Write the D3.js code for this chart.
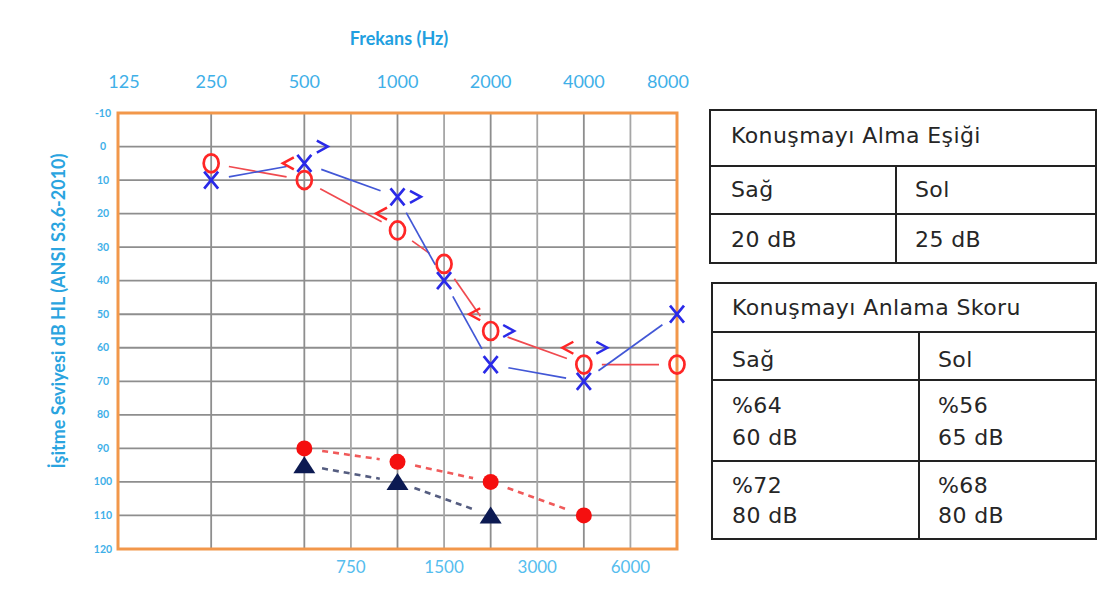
<!DOCTYPE html>
<html lang="tr">
<head>
<meta charset="utf-8">
<title>Odyogram</title>
<script src="https://cdn.jsdelivr.net/npm/d3@7"></script>
<style>
body { margin: 0; background: #fff; }
.blue-label { font-family: Lato, "Open Sans", sans-serif; fill: #3fb0e8; }
.cell-text { font-family: "DejaVu Sans", sans-serif; font-size: 22px; letter-spacing: 0.4px; fill: #262626; }
.grid line { stroke: #8e8e8e; stroke-width: 1.8px; }
.grid line.mid { stroke: #a6a6a6; }
.cell { fill: none; stroke: #222; stroke-width: 2px; }
</style>
</head>
<body>
<script>
// audiogram data
var octaveFreqs = [125, 250, 500, 1000, 2000, 4000, 8000];
var midFreqs = [750, 1500, 3000, 6000];
var dbTicks = [-10, 0, 10, 20, 30, 40, 50, 60, 70, 80, 90, 100, 110, 120];

var acFreqs = [250, 500, 1000, 1500, 2000, 4000, 8000];
var rightAC = [5, 10, 25, 35, 55, 65, 65];     // red O
var leftAC = [10, 5, 15, 40, 65, 70, 50];      // blue X

var bcFreqs = [500, 1000, 2000, 4000];
var rightBC = [5, 20, 50, 60];                 // red <
var leftBC = [0, 15, 55, 60];                  // blue >

var dotFreqs = [500, 1000, 2000, 4000];
var redDots = [90, 94, 100, 110];
var triFreqs = [500, 1000, 2000];
var navyTris = [95, 100, 110];

// table texts
var srtTitle = "Konuşmayı Alma Eşiği";
var earHeads = ["Sağ", "Sol"];
var srtValues = ["20 dB", "25 dB"];
var sdsTitle = "Konuşmayı Anlama Skoru";
var sdsRows = [
    [["%64", "60 dB"], ["%56", "65 dB"]],
    [["%72", "80 dB"], ["%68", "80 dB"]]
];

{
    var w = 1120, h = 601;
    var plot = {left: 118, right: 677, top: 113, bottom: 549};

    var svg = d3.select("body").append("svg")
        .attr("width", w)
        .attr("height", h);

    var x = d3.scaleLog().domain([125, 8000]).range([plot.left, plot.right]);
    var y = d3.scaleLinear().domain([-10, 120]).range([plot.top, plot.bottom]);

    // half-octave lines sit in the middle of their octave
    function fx(f) {
        return x(midFreqs.indexOf(f) >= 0 ? f / 1.5 * Math.SQRT2 : f);
    }

    // grid
    var grid = svg.append("g").attr("class", "grid");
    grid.selectAll("line.h").data(dbTicks).enter().append("line")
        .attr("class", "h")
        .attr("x1", plot.left).attr("x2", plot.right)
        .attr("y1", function(d) { return y(d); })
        .attr("y2", function(d) { return y(d); });
    grid.selectAll("line.oct").data(octaveFreqs).enter().append("line")
        .attr("class", "oct")
        .attr("x1", function(d) { return fx(d); })
        .attr("x2", function(d) { return fx(d); })
        .attr("y1", plot.top).attr("y2", plot.bottom);
    grid.selectAll("line.mid").data(midFreqs).enter().append("line")
        .attr("class", "mid")
        .attr("x1", function(d) { return fx(d); })
        .attr("x2", function(d) { return fx(d); })
        .attr("y1", plot.top).attr("y2", plot.bottom);

    svg.append("rect")
        .attr("x", plot.left).attr("y", plot.top)
        .attr("width", plot.right - plot.left)
        .attr("height", plot.bottom - plot.top)
        .attr("fill", "none")
        .attr("stroke", "#f2974a")
        .attr("stroke-width", 3);

    // axis texts
    svg.append("text")
        .attr("class", "blue-label")
        .attr("x", 399).attr("y", 45)
        .attr("text-anchor", "middle")
        .style("font-size", "18px").style("font-weight", "bold")
        .style("fill", "#1f9fe0")
        .text("Frekans (Hz)");

    svg.selectAll("text.top").data(octaveFreqs).enter().append("text")
        .attr("class", "blue-label top")
        .attr("x", function(d) { return Math.min(Math.max(fx(d), plot.left + 6), plot.right - 9); })
        .attr("y", 88)
        .attr("text-anchor", "middle")
        .style("font-size", "18px")
        .text(function(d) { return d; });

    svg.selectAll("text.bottom").data(midFreqs).enter().append("text")
        .attr("class", "blue-label bottom")
        .attr("x", function(d) { return fx(d); })
        .attr("y", 573)
        .attr("text-anchor", "middle")
        .style("font-size", "17px")
        .style("fill", "#55bdee")
        .text(function(d) { return d; });

    svg.selectAll("text.ytick").data(dbTicks).enter().append("text")
        .attr("class", "blue-label ytick")
        .attr("x", 103)
        .attr("y", function(d) { return y(d) + 3.5; })
        .attr("text-anchor", "middle")
        .style("font-size", "10.5px").style("font-weight", "bold")
        .text(function(d) { return d; });

    svg.append("text")
        .attr("class", "blue-label")
        .attr("transform", "translate(65,311) rotate(-90)")
        .attr("text-anchor", "middle")
        .style("font-size", "18px").style("font-weight", "bold")
        .style("fill", "#2aa4df")
        .text("İşitme Seviyesi dB HL (ANSI S3.6-2010)");

    // connecting lines leave a gap round each symbol
    function gapSegments(freqs, vals, gap) {
        var pts = freqs.map(function(f, i) { return [fx(f), y(vals[i])]; });
        return d3.pairs(pts).map(function(p) {
            var dx = p[1][0] - p[0][0], dy = p[1][1] - p[0][1];
            var len = Math.sqrt(dx * dx + dy * dy);
            var ux = dx / len, uy = dy / len;
            return [p[0][0] + ux * gap, p[0][1] + uy * gap,
                    p[1][0] - ux * gap, p[1][1] - uy * gap];
        });
    }

    function drawSegments(segs, color, width, dash) {
        svg.append("g").selectAll("line").data(segs).enter().append("line")
            .attr("x1", function(d) { return d[0]; })
            .attr("y1", function(d) { return d[1]; })
            .attr("x2", function(d) { return d[2]; })
            .attr("y2", function(d) { return d[3]; })
            .attr("stroke", color)
            .attr("stroke-width", width)
            .attr("stroke-dasharray", dash || null);
    }

    drawSegments(gapSegments(acFreqs, rightAC, 18), "#f04a4f", 1.7);
    drawSegments(gapSegments(acFreqs, leftAC, 18), "#4257d6", 1.7);
    drawSegments(gapSegments(dotFreqs, redDots, 18), "#f05a5a", 2.6, "6,5");
    drawSegments(gapSegments(triFreqs, navyTris, 18), "#555d80", 2.6, "6,5");

    // right ear air: O
    svg.append("g").selectAll("ellipse").data(acFreqs).enter().append("ellipse")
        .attr("cx", function(d) { return fx(d); })
        .attr("cy", function(d, i) { return y(rightAC[i]); })
        .attr("rx", 7.5).attr("ry", 9)
        .attr("fill", "none")
        .attr("stroke", "#ff2626")
        .attr("stroke-width", 2.7);

    // left ear air: X
    svg.append("g").selectAll("path").data(acFreqs).enter().append("path")
        .attr("transform", function(d, i) { return "translate(" + fx(d) + "," + y(leftAC[i]) + ")"; })
        .attr("d", "M-7,-8.5L7,8.5M7,-8.5L-7,8.5")
        .attr("fill", "none")
        .attr("stroke", "#2a2ae8")
        .attr("stroke-width", 2.7);

    // bone conduction
    svg.append("g").selectAll("path").data(bcFreqs).enter().append("path")
        .attr("transform", function(d, i) { return "translate(" + (fx(d) - 16) + "," + y(rightBC[i]) + ")"; })
        .attr("d", "M5.5,-6L-5.5,0L5.5,6")
        .attr("fill", "none")
        .attr("stroke", "#ff2626")
        .attr("stroke-width", 2.5);
    svg.append("g").selectAll("path").data(bcFreqs).enter().append("path")
        .attr("transform", function(d, i) { return "translate(" + (fx(d) + 18) + "," + y(leftBC[i]) + ")"; })
        .attr("d", "M-5.5,-6L5.5,0L-5.5,6")
        .attr("fill", "none")
        .attr("stroke", "#2a2ae8")
        .attr("stroke-width", 2.5);

    // filled markers at the bottom
    svg.append("g").selectAll("circle").data(dotFreqs).enter().append("circle")
        .attr("cx", function(d) { return fx(d); })
        .attr("cy", function(d, i) { return y(redDots[i]); })
        .attr("r", 8)
        .attr("fill", "#f50f0f");
    svg.append("g").selectAll("path").data(triFreqs).enter().append("path")
        .attr("transform", function(d, i) { return "translate(" + fx(d) + "," + y(navyTris[i]) + ")"; })
        .attr("d", "M0,-9L11,8L-11,8Z")
        .attr("fill", "#0c1a52");

    // tables on the right
    function cellText(g, str, tx, ty) {
        g.append("text").attr("class", "cell-text").attr("x", tx).attr("y", ty).text(str);
    }

    var t1 = svg.append("g");
    var t1x = [710, 896, 1096], t1y = [110, 166, 214, 263];
    t1.append("rect").attr("class", "cell")
        .attr("x", t1x[0]).attr("y", t1y[0])
        .attr("width", t1x[2] - t1x[0]).attr("height", t1y[3] - t1y[0]);
    t1.selectAll("line.r").data([t1y[1], t1y[2]]).enter().append("line")
        .attr("class", "cell")
        .attr("x1", t1x[0]).attr("x2", t1x[2])
        .attr("y1", function(d) { return d; }).attr("y2", function(d) { return d; });
    t1.append("line").attr("class", "cell")
        .attr("x1", t1x[1]).attr("x2", t1x[1]).attr("y1", t1y[1]).attr("y2", t1y[3]);
    cellText(t1, srtTitle, 731, 143);
    earHeads.forEach(function(s, i) { cellText(t1, s, i ? 915 : 731, 197); });
    srtValues.forEach(function(s, i) { cellText(t1, s, i ? 915 : 731, 247); });

    var t2 = svg.append("g");
    var t2x = [712, 919, 1096], t2y = [283, 332, 380, 461, 539];
    t2.append("rect").attr("class", "cell")
        .attr("x", t2x[0]).attr("y", t2y[0])
        .attr("width", t2x[2] - t2x[0]).attr("height", t2y[4] - t2y[0]);
    t2.selectAll("line.r").data([t2y[1], t2y[2], t2y[3]]).enter().append("line")
        .attr("class", "cell")
        .attr("x1", t2x[0]).attr("x2", t2x[2])
        .attr("y1", function(d) { return d; }).attr("y2", function(d) { return d; });
    t2.append("line").attr("class", "cell")
        .attr("x1", t2x[1]).attr("x2", t2x[1]).attr("y1", t2y[1]).attr("y2", t2y[4]);
    cellText(t2, sdsTitle, 732, 315);
    earHeads.forEach(function(s, i) { cellText(t2, s, i ? 938 : 732, 367); });
    sdsRows.forEach(function(row, r) {
        row.forEach(function(cell, c) {
            cellText(t2, cell[0], c ? 938 : 732, 413 + r * 80);
            cellText(t2, cell[1], c ? 938 : 732, 445 + r * 78);
        });
    });
}
</script>
</body>
</html>
